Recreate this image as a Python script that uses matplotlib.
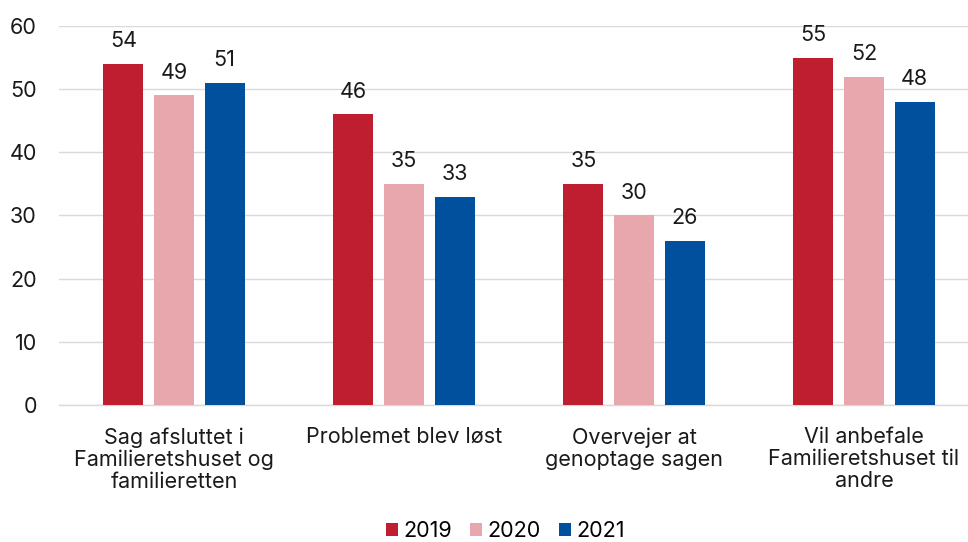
import matplotlib
matplotlib.use("Agg")
import matplotlib.pyplot as plt
import numpy as np

plt.rcParams['font.family'] = ['Inter', 'DejaVu Sans']

categories = ["Sag afsluttet i\nFamilieretshuset og\nfamilieretten",
              "Problemet blev løst",
              "Overvejer at\ngenoptage sagen",
              "Vil anbefale\nFamilieretshuset til\nandre"]
series_names = ["2019", "2020", "2021"]
v2019 = [54, 46, 35, 55]
v2020 = [49, 35, 30, 52]
v2021 = [51, 33, 26, 48]
colors = ["#BE1E2F", "#E8A7AC", "#00509D"]

FS = 15.5
fig = plt.figure(figsize=(9.68, 5.42), dpi=100)
ax = fig.add_axes([0.061, 0.2528, 0.939, 0.6992])

x = np.arange(len(categories))
bw = 0.174
step = 0.22
for i, (vals, name, c) in enumerate(zip([v2019, v2020, v2021], series_names, colors)):
    bars = ax.bar(x + (i - 1) * step, vals, width=bw, color=c, label=name, zorder=3)
    for b, v in zip(bars, vals):
        ax.text(b.get_x() + b.get_width() / 2, v + 2.0, str(v), ha='center', va='bottom',
                fontsize=FS, color='#1a1a1a')

ax.set_ylim(0, 60)
ax.set_xlim(-0.5, 3.452)
ax.set_yticks(range(0, 61, 10))
ax.yaxis.grid(True, color='#d9d9d9', linewidth=1, zorder=0)
ax.set_axisbelow(True)
for s in ['top', 'right', 'left']:
    ax.spines[s].set_visible(False)
ax.spines['bottom'].set_color('#d9d9d9')
ax.spines['bottom'].set_linewidth(1)
ax.tick_params(axis='both', length=0, labelsize=FS, colors='#1a1a1a')
ax.tick_params(axis='y', pad=16)
ax.tick_params(axis='x', pad=16)
ax.set_xticks(x)
ax.set_xticklabels(categories, linespacing=1.12)

ax.legend(loc='lower center', bbox_to_anchor=(0.522, -0.014), bbox_transform=fig.transFigure,
          ncol=3, frameon=False, fontsize=FS, handlelength=0.56, handleheight=0.56,
          handletextpad=0.25, columnspacing=0.85, borderaxespad=0.0)

fig.savefig("out.png", dpi=100)
